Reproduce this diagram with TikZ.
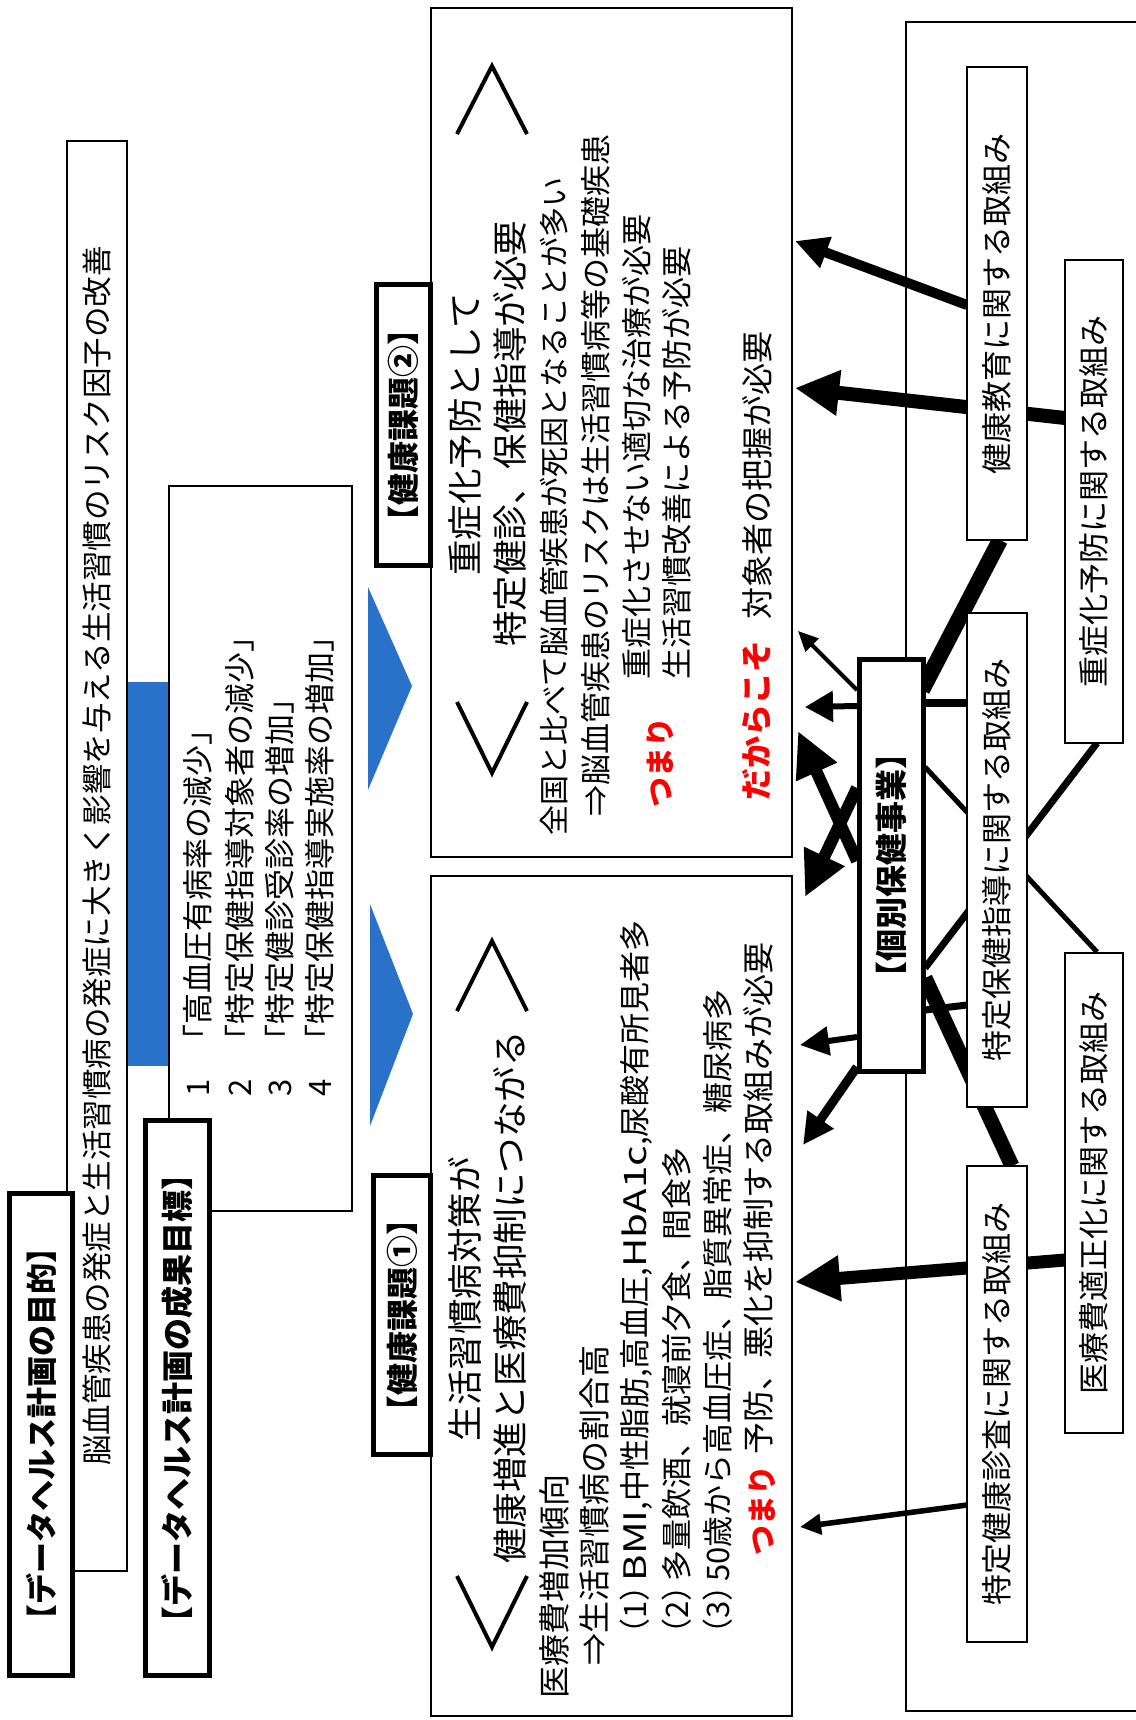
\documentclass[tikz,border=0pt]{standalone}
\usepackage{fontspec}
\setmainfont{Noto Sans CJK JP}
\usetikzlibrary{arrows.meta}
\definecolor{myblue}{RGB}{42,114,201}
\definecolor{myred}{RGB}{255,0,0}
\newcommand\myfs[1]{\fontsize{#1pt}{#1pt}\selectfont}
\newcommand\wlat[1]{\scalebox{1.3}[1]{#1}}
\newcommand\numpar[1]{（#1）\kern-0.35em}
\begin{document}
\begin{tikzpicture}[x=1pt,y=-1pt,
  box/.style={draw, line width=2pt, fill=white, inner sep=0pt, rotate=90, font=\myfs{31}},
  tbox/.style={box, line width=5pt, font=\myfs{32}\bfseries},
  tx/.style={rotate=90, inner sep=0pt, font=\myfs{31}},
  txl/.style={tx, anchor=west},
  hd/.style={rotate=90, inner sep=0pt, font=\myfs{35.5}},
  redtx/.style={rotate=90, inner sep=0pt, font=\myfs{30}\bfseries, text=myred},
  chev/.style={line width=4pt, line join=miter},
  conn/.style={draw, line cap=butt},
]
\useasboundingbox (0,0) rectangle (1135,1720);
\fill[white] (0,0) rectangle (1135,1720);

% outer frame of the initiatives
\draw[line width=2pt] (1140,22) -- (906,22) -- (906,1711) -- (1140,1711);

% blue connectors
\fill[myblue] (127,682) rectangle (169,1066);
\fill[myblue] (368,587) -- (412,686) -- (368,790) -- cycle;
\fill[myblue] (370,904) -- (413,1014) -- (370,1126) -- cycle;

% purpose
\node[box, minimum width=1430pt, minimum height=60pt, font=\myfs{30.5}] (purpose) at (97,856)
  {脳血管疾患の発症と生活習慣病の発症に大きく影響を与える生活習慣のリスク因子の改善};
\node[tbox, minimum width=482pt, minimum height=63pt, font=\myfs{31}\bfseries] (ptitle) at (41,1434)
  {【データヘルス計画の目的】};

% outcome targets
\node[box, minimum width=725pt, minimum height=183pt] (outcome) at (260.5,848.5) {};
\node[tbox, minimum width=555pt, minimum height=64pt] (otitle) at (177.5,1398)
  {【データヘルス計画の成果目標】};
\node[tx] (n1) at (198,1088) {1};
\node[tx] (n2) at (240,1088) {2};
\node[tx] (n3) at (280,1088) {3};
\node[tx] (n4) at (320,1088) {4};
\node[txl] (o1) at (198,1056) {「高血圧有病率の減少」};
\node[txl] (o2) at (240,1056) {「特定保健指導対象者の減少」};
\node[txl] (o3) at (280,1056) {「特定健診受診率の増加」};
\node[txl] (o4) at (320,1056) {「特定保健指導実施率の増加」};

% health issue 2
\node[box, minimum width=849pt, minimum height=361pt] (issue2) at (611.5,432.5) {};
\node[tbox, minimum width=281pt, minimum height=54pt] (i2title) at (403.5,425) {【健康課題②】};
\draw[chev] (457,134) -- (492,66) -- (527,134);
\draw[chev] (457,702) -- (492,773) -- (527,702);
\node[hd] (i2h1) at (465,434.5) {重症化予防として};
\node[hd] (i2h2) at (510,433.5) {特定健診、保健指導が必要};
\node[txl, font=\myfs{30}] (i2a) at (554,836) {全国と比べて脳血管疾患が死因となることが多い};
\node[txl] (i2b) at (596,817) {⇒脳血管疾患のリスクは生活習慣病等の基礎疾患};
\node[redtx] (i2c) at (660,762) {つまり};
\node[txl] (i2d) at (637,680) {重症化させない適切な治療が必要};
\node[txl] (i2e) at (677,680) {生活習慣改善による予防が必要};
\node[redtx, font=\myfs{32}\bfseries] (i2f) at (757,720) {だからこそ};
\node[txl, font=\myfs{32}] (i2g) at (757,620) {対象者の把握が必要};

% health issue 1
\node[box, minimum width=840pt, minimum height=361pt] (issue1) at (611.5,1296) {};
\node[tbox, minimum width=279pt, minimum height=57pt] (i1title) at (402,1315) {【健康課題①】};
\draw[chev] (457,1011) -- (492,941) -- (527,1011);
\draw[chev] (457,1576) -- (492,1647) -- (527,1576);
\node[hd] (i1h1) at (465,1299) {生活習慣病対策が};
\node[hd] (i1h2) at (510,1297.5) {健康増進と医療費抑制につながる};
\node[txl, font=\myfs{32}] (i1a) at (554,1699) {医療費増加傾向};
\node[txl, font=\myfs{32}] (i1b) at (594,1666) {⇒生活習慣病の割合高};
\node[txl] (i1c) at (636,1650) {\numpar{1}\wlat{BMI},中性脂肪,高血圧,\wlat{HbA1c},尿酸有所見者多};
\node[txl] (i1d) at (677,1650) {\numpar{2}多量飲酒、就寝前夕食、間食多};
\node[txl] (i1e) at (718,1650) {\numpar{3}50歳から高血圧症、脂質異常症、糖尿病多};
\node[redtx] (i1f) at (762,1510) {つまり};
\node[txl, font=\myfs{32}] (i1g) at (758,1455) {予防、悪化を抑制する取組みが必要};

% connector end points
\coordinate (a1s) at (967,305);   \coordinate (a1e) at (795,241);
\coordinate (a2s) at (1065,418);  \coordinate (a2e) at (795,388);
\coordinate (l1s) at (1000,540);  \coordinate (l1e) at (922,690);
\coordinate (l2s) at (925,703);   \coordinate (l2e) at (967,703);
\coordinate (l3s) at (1097,952);  \coordinate (l3e) at (925,767);
\coordinate (l4s) at (1097,743);  \coordinate (l4e) at (925,968);
\coordinate (l5s) at (925,1010);  \coordinate (l5e) at (967,1005);
\coordinate (l6s) at (925,978);   \coordinate (l6e) at (1012,1166);
\coordinate (b1s) at (857,690);   \coordinate (b1e) at (798,631);
\coordinate (b2s) at (857,706);   \coordinate (b2e) at (805,707);
\coordinate (x1s) at (857,861);   \coordinate (x1e) at (798,731);
\coordinate (x2s) at (857,788);   \coordinate (x2e) at (805,897);
\coordinate (b3s) at (857,1037);  \coordinate (b3e) at (800,1045);
\coordinate (b4s) at (857,1067);  \coordinate (b4e) at (803,1145);
\coordinate (c1s) at (1065,1260); \coordinate (c1e) at (795,1282);
\coordinate (c2s) at (967,1505);  \coordinate (c2e) at (800,1527);

% connectors
\draw[conn, line width=10pt, -{Triangle[length=33pt,width=31pt]}] (a1s) -- (a1e);
\draw[conn, line width=14pt, -{Triangle[length=44pt,width=43pt]}] (a2s) -- (a2e);
\draw[conn, line width=16pt] (l1s) -- (l1e);
\draw[conn, line width=8pt] (l2s) -- (l2e);
\draw[conn, line width=5pt] (l3s) -- (l3e);
\draw[conn, line width=7pt] (l4s) -- (l4e);
\draw[conn, line width=7pt] (l5s) -- (l5e);
\draw[conn, line width=15pt] (l6s) -- (l6e);
\draw[conn, line width=4pt, -{Triangle[length=20pt,width=18pt]}] (b1s) -- (b1e);
\draw[conn, line width=6pt, -{Triangle[length=28pt,width=30pt]}] (b2s) -- (b2e);
\draw[conn, line width=12pt, -{Triangle[length=45pt,width=42pt]}] (x1s) -- (x1e);
\draw[conn, line width=12pt, -{Triangle[length=45pt,width=42pt]}] (x2s) -- (x2e);
\draw[conn, line width=6pt, -{Triangle[length=29pt,width=28pt]}] (b3s) -- (b3e);
\draw[conn, line width=9pt, -{Triangle[length=31pt,width=30pt]}] (b4s) -- (b4e);
\draw[conn, line width=13pt, -{Triangle[length=45pt,width=43pt]}] (c1s) -- (c1e);
\draw[conn, line width=5.5pt, -{Triangle[length=21pt,width=20pt]}] (c2s) -- (c2e);

% initiatives
\node[box, minimum width=473pt, minimum height=60pt] (kyoiku) at (997,303.5) {健康教育に関する取組み};
\node[box, minimum width=483pt, minimum height=58pt] (jusho) at (1094,501.5) {重症化予防に関する取組み};
\node[box, minimum width=494pt, minimum height=60pt] (shido) at (997,860) {特定保健指導に関する取組み};
\node[box, minimum width=480pt, minimum height=58pt] (iryo) at (1094,1193) {医療費適正化に関する取組み};
\node[box, minimum width=476pt, minimum height=60pt] (kenshin) at (997,1404) {特定健康診査に関する取組み};
\node[tbox, minimum width=412pt, minimum height=64pt] (kobetsu) at (891.5,865.5) {【個別保健事業】};
\end{tikzpicture}
\end{document}
